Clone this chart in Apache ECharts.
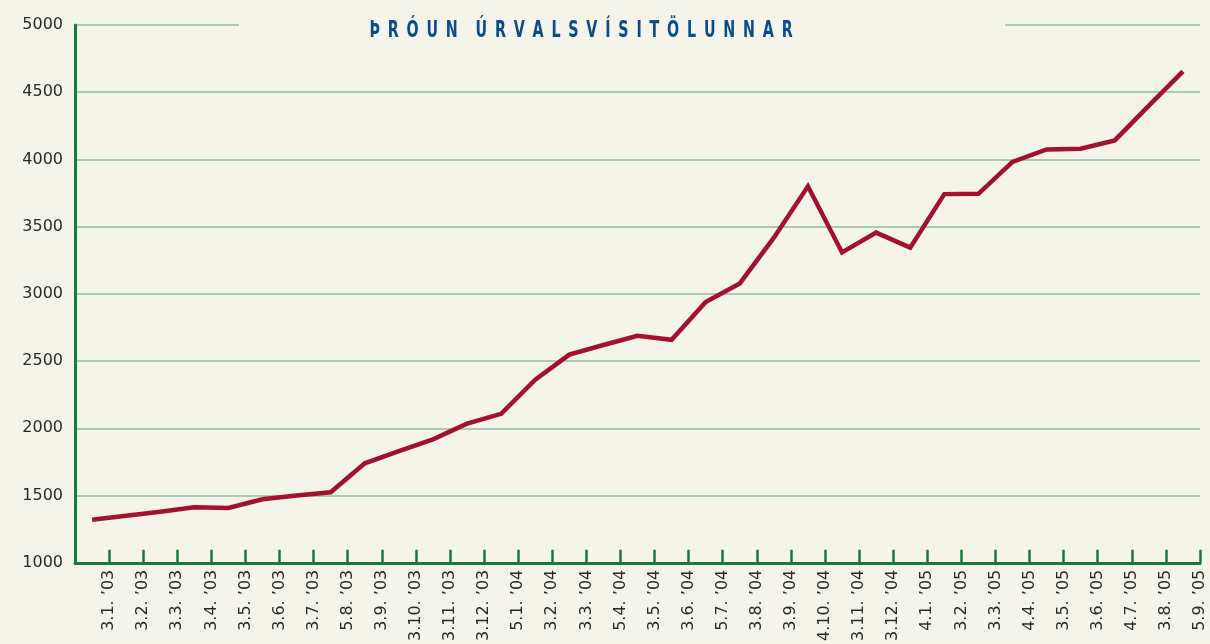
<!DOCTYPE html>
<html>
<head>
<meta charset="utf-8">
<style>
  html, body { margin: 0; padding: 0; background: #f4f4ea; }
  #chart { width: 1210px; height: 644px; }
</style>
<script src="https://cdn.jsdelivr.net/npm/echarts@6/dist/echarts.min.js"></script>
</head>
<body>
<div id="chart"></div>
<script>
const titleWords = ["ÞRÓUN", "ÚRVALSVÍSITÖLUNNAR"];

const categories = [
  "3.1. ’03", "3.2. ’03", "3.3. ’03", "3.4. ’03", "3.5. ’03", "3.6. ’03",
  "3.7. ’03", "5.8. ’03", "3.9. ’03", "3.10. ’03", "3.11. ’03", "3.12. ’03",
  "5.1. ’04", "3.2. ’04", "3.3. ’04", "5.4. ’04", "3.5. ’04", "3.6. ’04",
  "5.7. ’04", "3.8. ’04", "3.9. ’04", "4.10. ’04", "3.11. ’04", "3.12. ’04",
  "4.1. ’05", "3.2. ’05", "3.3. ’05", "4.4. ’05", "3.5. ’05", "3.6. ’05",
  "4.7. ’05", "3.8. ’05", "5.9. ’05"
];

const values = [
  1320, 1350, 1380, 1413, 1408, 1472, 1500, 1524, 1740, 1830, 1918, 2035,
  2108, 2362, 2548, 2620, 2688, 2658, 2940, 3078, 3418, 3800, 3308, 3456,
  3344, 3742, 3744, 3982, 4074, 4080, 4142, 4400, 4655
];

const yMin = 1000, yMax = 5000, yStep = 500;

const bg = "#f4f4ea";
const green = "#16793f";
const gridGreen = "#a9cbb1";
const lineRed = "#a3112f";

// letter-spaced title text (letters separated by space + thin space)
const titleText = titleWords.map(function (w) {
  return w.split("").join(" \u2009");
}).join("   \u2009");

const chart = echarts.init(document.getElementById("chart"));
chart.setOption({
  backgroundColor: bg,
  animation: false,
  graphic: [{
    type: "rect",
    z: 50,
    shape: { x: 239, y: 20, width: 766, height: 10 },
    style: { fill: bg }
  }, {
    type: "text",
    z: 100,
    x: 581,
    y: 31,
    scaleX: 0.62,
    style: {
      text: titleText,
      x: 0,
      y: 0,
      textAlign: "center",
      textVerticalAlign: "middle",
      font: "bold 23px 'DejaVu Sans', sans-serif",
      fill: "#0b4a8b"
    }
  }],
  grid: { left: 75, right: 10, top: 25, bottom: 74, containLabel: false },
  xAxis: {
    type: "value",
    min: 0,
    max: categories.length,
    interval: 1,
    axisLine: { show: true, onZero: false, lineStyle: { color: green, width: 3 } },
    axisTick: { show: true, inside: true, length: 13, lineStyle: { color: green, width: 2.5 } },
    splitLine: { show: false },
    axisLabel: {
      rotate: 90,
      margin: 7,
      fontFamily: "'DejaVu Sans', sans-serif",
      fontSize: 16,
      color: "#2a2a2a",
      showMinLabel: true,
      showMaxLabel: true,
      hideOverlap: false,
      formatter: function (v) { return categories[Math.round(v) - 1] || ""; }
    }
  },
  yAxis: {
    type: "value",
    min: yMin,
    max: yMax,
    interval: yStep,
    axisLine: { show: true, lineStyle: { color: green, width: 3 } },
    axisTick: { show: false },
    splitLine: { show: true, lineStyle: { color: gridGreen, width: 2 } },
    axisLabel: {
      margin: 12,
      fontFamily: "'DejaVu Sans', sans-serif",
      fontSize: 16,
      color: "#2a2a2a",
      formatter: function (v) { return String(v); }
    }
  },
  series: [{
    type: "line",
    data: values.map(function (v, i) { return [i + 0.5, v]; }),
    showSymbol: false,
    symbol: "none",
    lineStyle: { color: lineRed, width: 4.5, join: "miter" },
    z: 3
  }]
});
</script>
</body>
</html>
